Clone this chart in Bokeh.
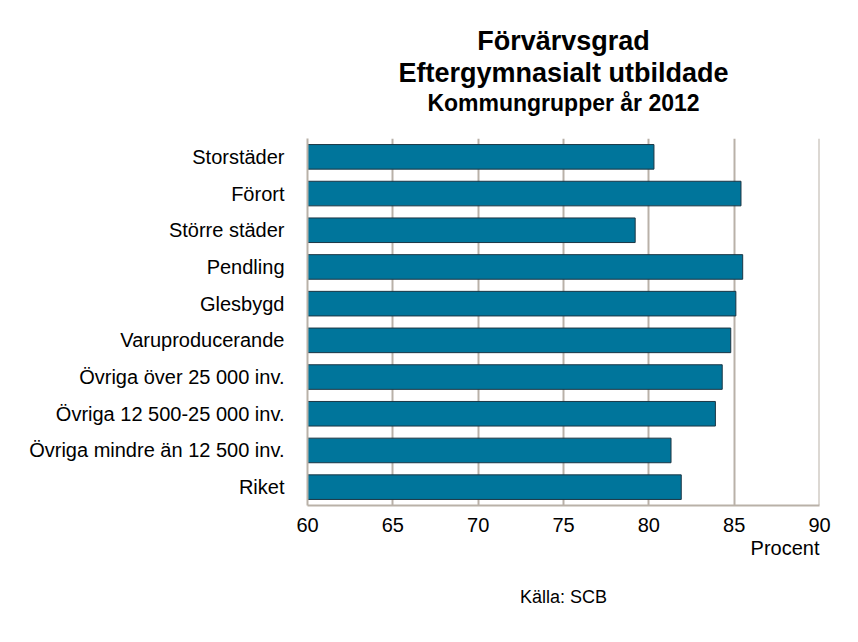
from bokeh.plotting import figure
from bokeh.models import FactorRange, Range1d, FixedTicker, Span, Title
from bokeh.embed import file_html
from bokeh.resources import INLINE

categories = ["Storstäder", "Förort", "Större städer", "Pendling", "Glesbygd",
              "Varuproducerande", "Övriga över 25 000 inv.", "Övriga 12 500-25 000 inv.",
              "Övriga mindre än 12 500 inv.", "Riket"]
values = [80.3, 85.4, 79.2, 85.5, 85.1, 84.8, 84.3, 83.9, 81.3, 81.9]
x_ticks = [60, 65, 70, 75, 80, 85, 90]

FONT = "Liberation Sans"
GRID = "#b9b1a8"
BAR = "#00759b"

p = figure(width=850, height=634, output_backend="svg", toolbar_location=None,
           y_range=FactorRange(factors=list(reversed(categories))),
           x_range=Range1d(60, 90),
           min_border_left=307, min_border_right=31, min_border_top=138, min_border_bottom=129)
p.title = None
p.outline_line_color = None
p.background_fill_color = "white"
p.border_fill_color = "white"

p.hbar(y=categories, right=values, left=60, height=0.67,
       fill_color=BAR, line_color="#1b3644", line_width=1)

p.xaxis.ticker = FixedTicker(ticks=x_ticks)
p.xaxis.major_tick_line_color = None
p.xaxis.minor_tick_line_color = None
p.xaxis.axis_line_color = GRID
p.xaxis.axis_line_width = 2
p.xaxis.major_label_text_font = FONT
p.xaxis.major_label_text_font_size = "20px"
p.xaxis.major_label_text_color = "black"
p.xaxis.major_label_standoff = 6

p.yaxis.major_tick_line_color = None
p.yaxis.minor_tick_line_color = None
p.yaxis.axis_line_color = GRID
p.yaxis.axis_line_width = 2
p.yaxis.major_label_text_font = FONT
p.yaxis.major_label_text_font_size = "20px"
p.yaxis.major_label_text_color = "black"
p.yaxis.major_label_standoff = 17

p.ygrid.grid_line_color = None
p.xgrid.grid_line_color = GRID
p.xgrid.grid_line_width = 2

p.add_layout(Span(location=90, dimension="height", line_color=GRID, line_width=2))

def title(text, size, place, bold=True, align="center", standoff=0):
    p.add_layout(Title(text=text, text_font=FONT, text_font_size=size,
                       text_font_style="bold" if bold else "normal",
                       align=align, text_color="black", standoff=standoff), place)

title(" ", "19px", "above")  # spacer
title("Kommungrupper år 2012", "23px", "above")
title("Eftergymnasialt utbildade", "27px", "above")
title("Förvärvsgrad", "27px", "above")
title("Procent", "20px", "below", bold=False, align="right")
title("Källa: SCB", "18px", "below", bold=False, standoff=53)

open("out.html", "w").write(file_html(p, INLINE))
